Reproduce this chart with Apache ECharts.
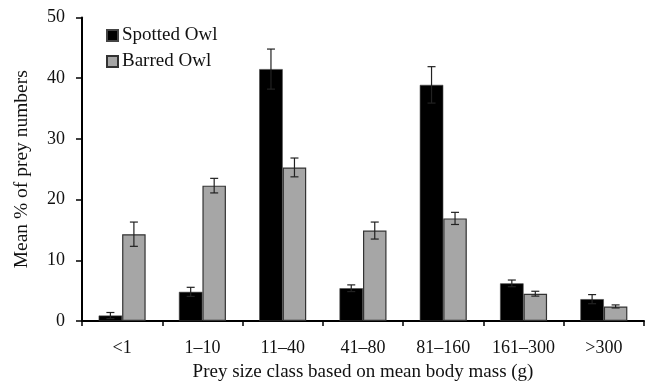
<!DOCTYPE html>
<html>
<head>
<meta charset="utf-8">
<script src="https://cdn.jsdelivr.net/npm/echarts@6/dist/echarts.min.js"></script>
<style>html,body{margin:0;padding:0;background:#fff}#c{width:650px;height:387px}</style>
</head>
<body>
<div id="c"></div>
<script>
const categories = ['<1', '1\u201310', '11\u201340', '41\u201380', '81\u2013160', '161\u2013300', '>300'];
const spotted = [0.9, 4.8, 41.5, 5.4, 38.9, 6.2, 3.6];
const spottedErr = [0.5, 0.75, 3.3, 0.55, 3.0, 0.55, 0.75];
const barred = [14.3, 22.3, 25.3, 14.9, 16.9, 4.5, 2.4];
const barredErr = [2.0, 1.2, 1.55, 1.4, 1.0, 0.4, 0.25];
const yTicks = [0, 10, 20, 30, 40, 50];

const BW = 23.5;
const font = 'Liberation Serif';

function errSeries(name, vals, errs, offset) {
  return {
    type: 'custom',
    name: name + ' err',
    z: 10,
    silent: true,
    data: vals.map((v, i) => [i, v, errs[i]]),
    encode: { x: 0, y: 1 },
    renderItem: function (params, api) {
      const i = api.value(0), v = api.value(1), e = api.value(2);
      const top = api.coord([i, v + e]);
      const bot = api.coord([i, v - e]);
      const x = top[0] + offset;
      const cap = 4;
      const st = { stroke: '#222', lineWidth: 1.2 };
      return {
        type: 'group',
        children: [
          { type: 'line', shape: { x1: x, y1: top[1], x2: x, y2: bot[1] }, style: st },
          { type: 'line', shape: { x1: x - cap, y1: top[1], x2: x + cap, y2: top[1] }, style: st },
          { type: 'line', shape: { x1: x - cap, y1: bot[1], x2: x + cap, y2: bot[1] }, style: st }
        ]
      };
    }
  };
}

const chart = echarts.init(document.getElementById('c'));
chart.setOption({
  animation: false,
  grid: { left: 82, right: 6, top: 17.5, bottom: 63 },
  legend: {
    orient: 'vertical',
    left: 101,
    top: 21,
    itemWidth: 11,
    itemHeight: 11,
    itemGap: 7,
    data: [
      { name: 'Spotted Owl', icon: 'rect' },
      { name: 'Barred Owl', icon: 'rect' }
    ],
    textStyle: { fontFamily: font, fontSize: 19, color: '#111', padding: [0, 0, 0, -1] }
  },
  xAxis: {
    type: 'category',
    data: categories,
    name: 'Prey size class based on mean body mass (g)',
    nameLocation: 'middle',
    nameGap: 42,
    nameTextStyle: { fontFamily: font, fontSize: 19, color: '#111' },
    axisLine: { lineStyle: { color: '#000', width: 2 } },
    axisTick: { show: true, length: 5, lineStyle: { color: '#000', width: 1.5 } },
    axisLabel: { fontFamily: font, fontSize: 18, color: '#111', margin: 18, interval: 0, hideOverlap: false }
  },
  yAxis: {
    type: 'value',
    min: 0,
    max: 50,
    interval: 10,
    name: 'Mean % of prey numbers',
    nameLocation: 'middle',
    nameGap: 50,
    nameTextStyle: { fontFamily: font, fontSize: 19.5, color: '#111' },
    axisLine: { show: true, lineStyle: { color: '#000', width: 2 } },
    axisTick: { show: true, length: 6, lineStyle: { color: '#000', width: 1.5 } },
    splitLine: { show: false },
    axisLabel: { fontFamily: font, fontSize: 18, color: '#111', margin: 17,
      formatter: v => yTicks.indexOf(v) >= 0 ? String(v) : '' }
  },
  series: [
    {
      name: 'Spotted Owl', type: 'bar', data: spotted, barWidth: BW, barGap: '0%',
      itemStyle: { color: '#000', borderColor: '#444', borderWidth: 0.6 }
    },
    {
      name: 'Barred Owl', type: 'bar', data: barred, barWidth: BW, barGap: '0%',
      itemStyle: { color: '#a6a6a6', borderColor: '#333', borderWidth: 1.2 }
    },
    errSeries('Spotted Owl', spotted, spottedErr, -BW / 2),
    errSeries('Barred Owl', barred, barredErr, BW / 2)
  ]
});
</script>
</body>
</html>
